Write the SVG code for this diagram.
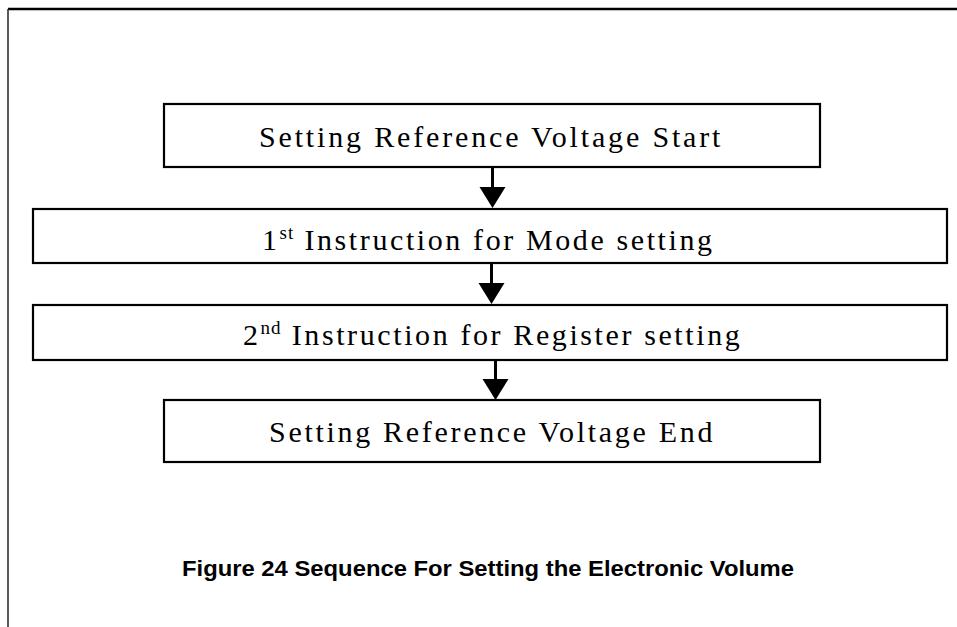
<svg xmlns="http://www.w3.org/2000/svg" width="957" height="627" viewBox="0 0 957 627">
<style>
.box{fill:#fff;stroke:#000;stroke-width:2.2;}
.lbl{font-family:"Liberation Serif","Times New Roman",serif;font-size:30px;letter-spacing:2.6px;fill:#000;}
.sup{font-size:19px;letter-spacing:1px;}
.conn{stroke:#000;stroke-width:3;fill:none;}
.head{fill:#000;}
.cap{font-family:"Liberation Sans",Arial,sans-serif;font-weight:bold;font-size:21.5px;fill:#000;}
</style>
<rect width="957" height="627" fill="#fff"/>
<g id="frame">
<line x1="8" y1="9" x2="957" y2="9" stroke="#000" stroke-width="2.5"/>
<line x1="8" y1="9" x2="8" y2="627" stroke="#333" stroke-width="1.6"/>
</g>
<g id="connectors">
<path class="conn" d="M492.5,167 V190"/>
<path class="head" d="M479.5,187 L505.5,187 L492.5,208 Z"/>
<path class="conn" d="M491.5,263 V286"/>
<path class="head" d="M478.5,283 L504.5,283 L491.5,304 Z"/>
<path class="conn" d="M495.5,359 V382"/>
<path class="head" d="M482.5,379 L508.5,379 L495.5,400 Z"/>
</g>
<g id="node-start">
<rect class="box" x="164" y="104" width="656" height="63"/>
<text class="lbl" font-family="Liberation Serif, serif" x="259" y="147" textLength="464" lengthAdjust="spacing">Setting Reference Voltage Start</text>
</g>
<g id="node-mode">
<rect class="box" x="33" y="209" width="914" height="54"/>
<text class="lbl" font-family="Liberation Serif, serif" x="262" y="250">1<tspan class="sup" dy="-11">st</tspan><tspan dy="11"> Instruction for Mode setting</tspan></text>
</g>
<g id="node-register">
<rect class="box" x="33" y="305" width="914" height="55"/>
<text class="lbl" font-family="Liberation Serif, serif" x="243" y="345">2<tspan class="sup" dy="-11">nd</tspan><tspan dy="11"> Instruction for Register setting</tspan></text>
</g>
<g id="node-end">
<rect class="box" x="164" y="400" width="656" height="62"/>
<text class="lbl" font-family="Liberation Serif, serif" x="269" y="442" textLength="446" lengthAdjust="spacing">Setting Reference Voltage End</text>
</g>
<g id="caption">
<text class="cap" x="182" y="576" textLength="612" lengthAdjust="spacingAndGlyphs">Figure 24 Sequence For Setting the Electronic Volume</text>
</g>
</svg>
